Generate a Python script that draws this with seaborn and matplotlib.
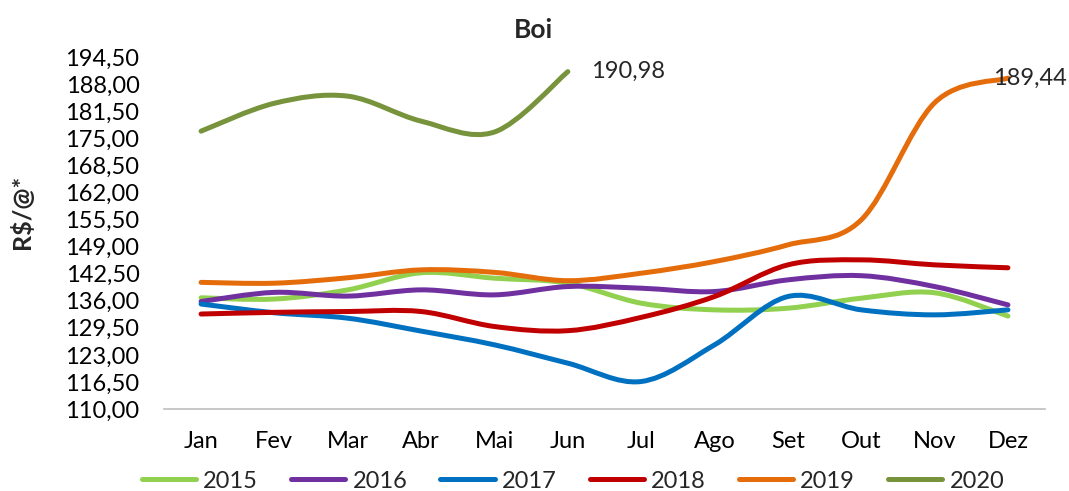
import numpy as np
import pandas as pd
import matplotlib
matplotlib.use("Agg")
import matplotlib.pyplot as plt
import seaborn as sns
from matplotlib.path import Path
from matplotlib.patches import PathPatch
from matplotlib.lines import Line2D

# dados (R$/@)
meses = ["Jan", "Fev", "Mar", "Abr", "Mai", "Jun", "Jul", "Ago", "Set", "Out", "Nov", "Dez"]
anos = ["2015", "2016", "2017", "2018", "2019", "2020"]
v2015 = [136.7, 136.4, 138.6, 142.7, 141.4, 140.2, 135.4, 133.8, 134.2, 136.6, 137.9, 132.3]
v2016 = [135.8, 138.0, 137.1, 138.6, 137.4, 139.4, 139.0, 138.2, 141.0, 142.0, 139.4, 135.0]
v2017 = [135.2, 133.1, 131.8, 128.7, 125.4, 121.0, 116.6, 125.4, 137.0, 133.8, 132.6, 133.8]
v2018 = [132.8, 133.2, 133.4, 133.4, 129.8, 128.8, 132.0, 137.0, 144.6, 145.8, 144.6, 143.9]
v2019 = [140.4, 140.2, 141.5, 143.4, 142.8, 140.8, 142.6, 145.4, 149.4, 155.4, 183.5, 189.44]
v2020 = [176.7, 183.4, 185.1, 179.1, 176.5, 190.98]
cores = ["#92D050", "#7030A0", "#0070C0", "#C00000", "#E46C0A", "#77933C"]
y_ticks = [110.0, 116.5, 123.0, 129.5, 136.0, 142.5, 149.0, 155.5, 162.0, 168.5, 175.0, 181.5, 188.0, 194.5]

series = [v2015, v2016, v2017, v2018, v2019, v2020]
df = pd.concat([pd.DataFrame({"mes": range(len(v)), "valor": v, "ano": a})
                for a, v in zip(anos, series)], ignore_index=True)

sns.set_theme(style="white")
plt.rcParams["font.family"] = ["Lato", "DejaVu Sans"]
fs = 17


def curva_suave(xs, ys):
    # bezier no estilo "linha suavizada" do Excel
    pts = np.column_stack([xs, ys]).astype(float)
    n = len(pts)
    verts = [pts[0]]
    codes = [Path.MOVETO]
    for i in range(n - 1):
        p0 = pts[i - 1] if i > 0 else pts[i]
        p1 = pts[i]
        p2 = pts[i + 1]
        p3 = pts[i + 2] if i + 2 < n else pts[i + 1]
        verts += [p1 + (p2 - p0) / 6, p2 - (p3 - p1) / 6, p2]
        codes += [Path.CURVE4] * 3
    return Path(verts, codes)


fig = plt.figure(figsize=(10.69, 4.91), dpi=100)
ax = fig.add_axes([164.4 / 1069, 1 - 409 / 491, 880.2 / 1069, 352 / 491])

handles = []
for ano, cor in zip(anos, cores):
    d = df[df["ano"] == ano]
    ax.add_patch(PathPatch(curva_suave(d["mes"], d["valor"]), fill=False,
                           edgecolor=cor, lw=3.6, capstyle="round", joinstyle="round"))
    handles.append(Line2D([], [], color=cor, lw=3.6, solid_capstyle="round"))

ax.set_xlim(-0.5, len(meses) - 0.5)
ax.set_ylim(y_ticks[0], y_ticks[-1])
ax.set_xticks(range(len(meses)))
ax.set_xticklabels(meses)
ax.set_yticks(y_ticks)
ax.set_yticklabels([f"{t:.2f}".replace(".", ",") for t in y_ticks])
ax.tick_params(axis="x", pad=16, length=0, labelsize=fs, colors="#000000")
ax.tick_params(axis="y", pad=18, length=0, labelsize=fs, colors="#000000")
for lado in ["top", "right", "left"]:
    ax.spines[lado].set_visible(False)
ax.spines["bottom"].set_color("#BFBFBF")
ax.spines["bottom"].set_linewidth(1.2)
ax.grid(False)

# rotulos dos ultimos valores
ax.annotate(f"{v2020[-1]:.2f}".replace(".", ","), (5, v2020[-1]), xytext=(17, 0),
            textcoords="offset points", fontsize=fs, va="center", ha="left")
ax.annotate(f"{v2019[-1]:.2f}".replace(".", ","), (11, v2019[-1]), xytext=(-11, 0),
            textcoords="offset points", fontsize=fs, va="center", ha="left")

fig.text(533 / 1069, 1 - 30 / 491, "Boi", fontsize=19, fontweight="bold",
         ha="center", va="center")
fig.text(22 / 1069, 1 - 212 / 491, "R$/@*", fontsize=18, fontweight="bold",
         rotation=90, ha="center", va="center")

fig.legend(handles, anos, loc="center", bbox_to_anchor=(573 / 1069, 1 - 481 / 491),
           ncol=6, frameon=False, fontsize=fs, handlelength=2.3,
           handletextpad=0.3, columnspacing=1.4)

fig.savefig("out.png", dpi=100)
